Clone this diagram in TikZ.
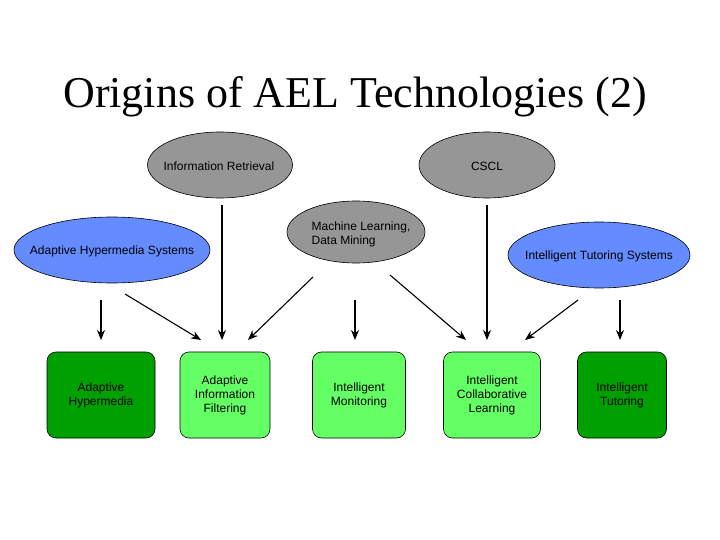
\documentclass[tikz,border=0pt]{standalone}
\usepackage{fontspec}
\setmainfont{Liberation Serif}
\newfontfamily\arial{Liberation Sans}
\usetikzlibrary{shapes.geometric,arrows.meta}
\definecolor{grayfill}{RGB}{150,150,150}
\definecolor{bluefill}{RGB}{100,140,255}
\definecolor{darkg}{RGB}{0,160,0}
\definecolor{lightg}{RGB}{100,255,100}
\tikzset{
 txt/.style={font=\arial\fontsize{12}{14}\selectfont},
 ell/.style={ellipse,draw=black,line width=0.6pt,inner sep=0pt},
 grayell/.style={ell,fill=grayfill},
 blueell/.style={ell,fill=bluefill},
 box/.style={rounded corners=9pt,draw=black,line width=0.6pt,minimum height=86pt,align=center,txt},
 arr/.style={-{Stealth[length=10pt,width=8pt]},line width=1.1pt}
}
\begin{document}
\begin{tikzpicture}[x=1pt,y=-1pt]
\useasboundingbox (0,0) rectangle (720,540);
\node[font=\fontsize{44}{48}\selectfont] (title) at (355,97) {Origins of AEL Technologies (2)};
\node[grayell,minimum width=145pt,minimum height=66pt] (ir) at (220,165) {};
\node[txt] at (219,166) {Information Retrieval};
\node[grayell,minimum width=136pt,minimum height=66pt] (cscl) at (487,165) {};
\node[txt] at (487,166) {CSCL};
\node[grayell,minimum width=138pt,minimum height=62pt] (ml) at (356,232) {};
\node[txt,align=left] at (361,234) {Machine Learning,\\Data Mining};
\node[blueell,minimum width=196pt,minimum height=66pt] (ahs) at (112,250) {};
\node[txt] at (112,251) {Adaptive Hypermedia Systems};
\node[blueell,minimum width=182pt,minimum height=66pt] (its) at (599,255) {};
\node[txt] at (599,256) {Intelligent Tutoring Systems};
\node[box,fill=darkg,minimum width=108pt] (ah) at (101,395) {Adaptive\\Hypermedia};
\node[box,fill=lightg,minimum width=90pt] (aif) at (225,395) {Adaptive\\Information\\Filtering};
\node[box,fill=lightg,minimum width=93pt] (im) at (359,395) {Intelligent\\Monitoring};
\node[box,fill=lightg,minimum width=97pt] (icl) at (492,395) {Intelligent\\Collaborative\\Learning};
\node[box,fill=darkg,minimum width=89pt] (it) at (622,395) {Intelligent\\Tutoring};
\coordinate (a1) at (101,300); \coordinate (b1) at (101,340);
\coordinate (a2) at (125,294); \coordinate (b2) at (201,340);
\coordinate (a3) at (222,205); \coordinate (b3) at (222,340);
\coordinate (a4) at (313,277); \coordinate (b4) at (248,340);
\coordinate (a5) at (355,300); \coordinate (b5) at (355,340);
\coordinate (a6) at (390,275); \coordinate (b6) at (466,340);
\coordinate (a7) at (487,205); \coordinate (b7) at (487,340);
\coordinate (a8) at (578,300); \coordinate (b8) at (525,340);
\coordinate (a9) at (620,300); \coordinate (b9) at (620,340);
\foreach \i in {1,...,9} \draw[arr] (a\i) -- (b\i);
\end{tikzpicture}
\end{document}
